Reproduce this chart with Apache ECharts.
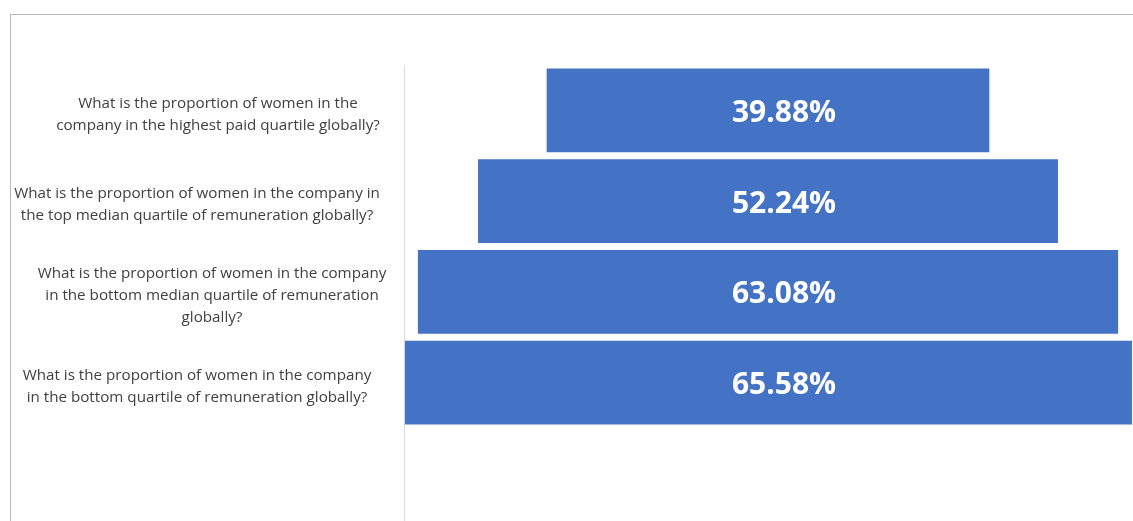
<!DOCTYPE html>
<html>
<head>
<meta charset="utf-8">
<script src="https://cdn.jsdelivr.net/npm/echarts@6/dist/echarts.min.js"></script>
<style>
html,body{margin:0;padding:0;background:#fff;}
#c{width:1133px;height:521px;}
</style>
</head>
<body>
<div id="c"></div>
<script>
// ---- data ----
var categories = [
  "What is the proportion of women in the\ncompany in the highest paid quartile globally?",
  "What is the proportion of women in the company in\nthe top median quartile of remuneration globally?",
  "What is the proportion of women in the company\nin the bottom median quartile of remuneration\nglobally?",
  "What is the proportion of women in the company\nin the bottom quartile of remuneration globally?"
];
var values = [39.88, 52.24, 63.08, 65.58];

// ---- styling: horizontal shift of each category label, px ----
var labelShift = [11, -10, 5, -10];

var maxV = Math.max.apply(null, values);
var offsets = values.map(function (v) { return (maxV - v) / 2; });

var rich = {};
labelShift.forEach(function (s, i) {
  rich['s' + i] = {
    fontFamily: 'Open Sans', fontSize: 15.2, lineHeight: 22, color: '#404040',
    padding: s > 0 ? [0, 0, 0, 2 * s] : [0, -2 * s, 0, 0]
  };
});

var chart = echarts.init(document.getElementById('c'), null, {renderer: 'canvas'});
chart.setOption({
  animation: false,
  backgroundColor: '#ffffff',
  grid: {left: 404, right: 1, top: 65, height: 363, containLabel: false, outerBoundsMode: 'none'},
  xAxis: {
    type: 'value', min: 0, max: maxV, show: false
  },
  yAxis: {
    type: 'category',
    inverse: true,
    data: categories,
    axisLine: {show: false},
    axisTick: {show: false},
    axisLabel: {
      margin: 197,
      align: 'center',
      padding: [8, 0, 0, 0],
      fontFamily: 'Open Sans',
      fontSize: 15.2,
      lineHeight: 22,
      color: '#404040',
      formatter: function (v, i) { return '{s' + i + '|' + v + '}'; },
      rich: rich
    }
  },
  graphic: [
    {type: 'rect', silent: true, z: 100,
     shape: {x: 10.5, y: 14.5, width: 1300, height: 700},
     style: {fill: null, stroke: '#b8b8b8', lineWidth: 1}},
    {type: 'line', silent: true, z: 100,
     shape: {x1: 404.5, y1: 65, x2: 404.5, y2: 521},
     style: {stroke: '#d9d9d9', lineWidth: 1}}
  ],
  series: [
    {
      type: 'bar', stack: 'f', silent: true,
      data: offsets,
      itemStyle: {color: 'transparent'},
      barCategoryGap: '7.5%'
    },
    {
      type: 'bar', stack: 'f', silent: true,
      data: values,
      itemStyle: {color: '#4472C4'},
      barCategoryGap: '7.5%',
      label: {
        show: true,
        position: 'inside',
        offset: [16, 3],
        formatter: function (p) { return p.value.toFixed(2) + '%'; },
        color: '#ffffff',
        fontFamily: 'Open Sans',
        fontWeight: 'bold',
        fontSize: 30
      }
    }
  ]
});
</script>
</body>
</html>
